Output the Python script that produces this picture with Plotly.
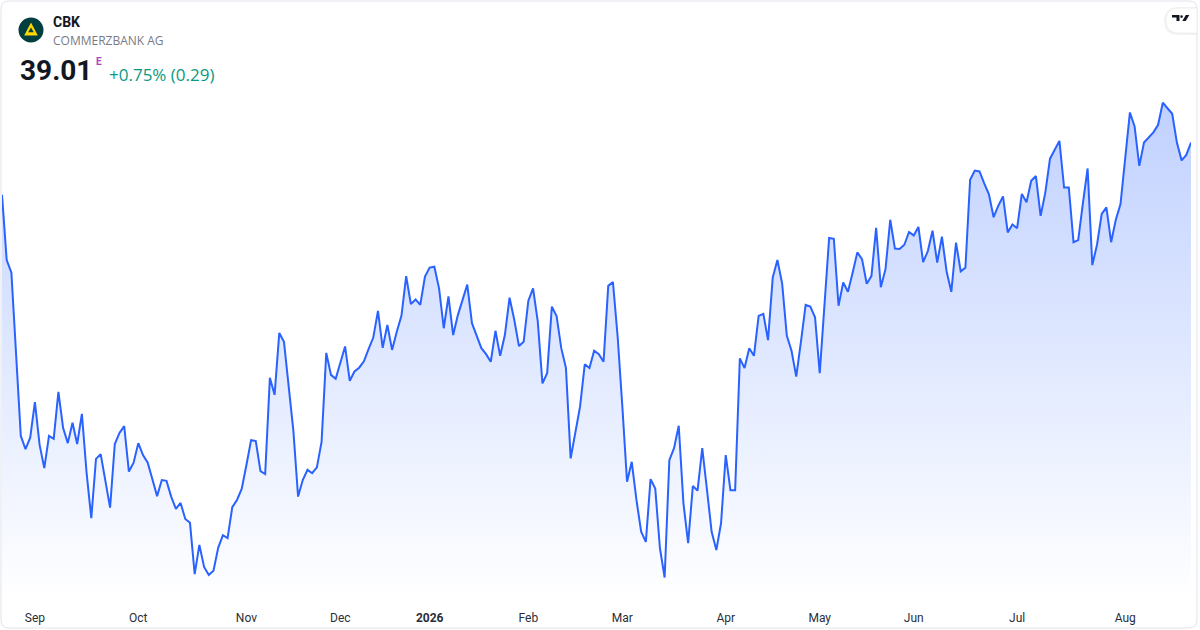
import pandas as pd
import plotly.graph_objects as go

W, H = 1200, 630
M_L, M_R, M_T, M_B = 2, 9, 90, 30

symbol = "CBK"
company = "COMMERZBANK AG"
last_price = "39.01"
change_text = "+0.75% (0.29)"

# Xetra closing days inside the window
holidays = ["2025-12-24", "2025-12-25", "2025-12-26", "2025-12-31",
            "2026-01-01", "2026-04-03", "2026-04-06", "2026-05-01"]

# daily closes, 21 Aug 2025 -> 21 Aug 2026
close = [
    37.78, 36.24, 35.94, 34.02, 32.09, 31.78, 32.05, 32.89, 31.88, 31.33,
    32.09, 32.02, 33.13, 32.28, 31.92, 32.40, 31.90, 32.61, 31.22, 30.15,
    31.55, 31.66, 31.01, 30.40, 31.90, 32.16, 32.32, 31.25, 31.46, 31.92,
    31.64, 31.46, 31.07, 30.67, 31.05, 31.03, 30.66, 30.37, 30.51, 30.13,
    30.04, 28.83, 29.52, 29.00, 28.81, 28.91, 29.45, 29.75, 29.68, 30.41,
    30.58, 30.84, 31.40, 31.99, 31.97, 31.26, 31.19, 33.46, 33.06, 34.52,
    34.31, 33.17, 32.21, 30.66, 31.05, 31.29, 31.21, 31.35, 31.95, 34.05,
    33.53, 33.44, 33.82, 34.20, 33.39, 33.61, 33.70, 33.85, 34.14, 34.41,
    35.04, 34.17, 34.71, 34.12, 34.55, 34.93, 35.86, 35.20, 35.31, 35.18,
    35.85, 36.06, 36.08, 35.57, 34.63, 35.38, 34.47, 34.94, 35.30, 35.66,
    34.75, 34.43, 34.16, 34.02, 33.84, 34.57, 33.98, 34.47, 35.35, 34.83,
    34.21, 34.31, 35.28, 35.57, 34.79, 33.33, 33.57, 35.14, 34.92, 34.16,
    33.69, 31.56, 32.19, 32.78, 33.78, 33.69, 34.10, 34.02, 33.84, 35.63,
    35.72, 34.43, 32.78, 31.01, 31.48, 30.58, 29.83, 29.59, 31.07, 30.85,
    29.44, 28.75, 31.52, 31.80, 32.33, 30.50, 29.56, 30.91, 30.80, 31.80,
    30.83, 29.83, 29.40, 30.03, 31.64, 30.81, 30.81, 33.92, 33.69, 34.16,
    33.98, 34.92, 34.97, 34.35, 35.83, 36.24, 35.69, 34.45, 34.10, 33.49,
    34.31, 35.18, 35.14, 34.89, 33.57, 35.06, 36.76, 36.74, 35.16, 35.71,
    35.49, 35.94, 36.42, 36.26, 35.68, 35.86, 37.00, 35.60, 36.03, 37.19,
    36.51, 36.50, 36.60, 36.90, 36.82, 37.02, 36.19, 36.45, 36.93, 36.18,
    36.79, 35.97, 35.49, 36.65, 35.97, 36.06, 38.13, 38.35, 38.33, 38.05,
    37.79, 37.25, 37.52, 37.74, 36.89, 37.08, 36.99, 37.80, 37.60, 38.11,
    38.22, 37.28, 37.83, 38.63, 38.84, 39.05, 37.95, 37.95, 36.66, 36.71,
    37.58, 38.40, 36.12, 36.60, 37.33, 37.48, 36.66, 37.19, 37.56, 38.64,
    39.72, 39.39, 38.46, 39.01, 39.13, 39.25, 39.43, 39.95, 39.82, 39.69,
    39.01, 38.59, 38.72, 39.01,
]

tick_dates = ["2025-09-01", "2025-10-01", "2025-11-03", "2025-12-01",
              "2026-01-02", "2026-02-02", "2026-03-02", "2026-04-01",
              "2026-05-04", "2026-06-01", "2026-07-01", "2026-08-03"]
tick_labels = ["Sep", "Oct", "Nov", "Dec", "<b>2026</b>", "Feb",
               "Mar", "Apr", "May", "Jun", "Jul", "Aug"]

days = pd.bdate_range("2025-08-21", "2026-08-21")
dates = [d.strftime("%Y-%m-%d") for d in days if d.strftime("%Y-%m-%d") not in holidays]

y_lo, y_hi = 28.22, 40.25
FONT = "Roboto, Noto Sans, sans-serif"
FONT_WIDE = "Open Sans, Noto Sans, sans-serif"


def px(x, y):
    """pixel position of the page -> paper coords"""
    return (x - M_L) / (W - M_L - M_R), (H - M_B - y) / (H - M_T - M_B)


def path(cmds):
    out = []
    for c in cmds:
        if isinstance(c, str):
            out.append(c)
        else:
            xp, yp = px(*c)
            out.append("{:.5f},{:.5f}".format(xp, yp))
    return " ".join(out)


def text(x, y, s, size, color, family=FONT, anchor="left"):
    xp, yp = px(x, y)
    return dict(x=xp, y=yp, xref="paper", yref="paper", text=s, showarrow=False,
                xanchor=anchor, yanchor="middle",
                font=dict(family=family, size=size, color=color))


fig = go.Figure()
fig.add_trace(go.Scatter(
    x=dates,
    y=close,
    mode="lines",
    line=dict(color="#2962FF", width=2),
    fill="tozeroy",
    fillgradient=dict(type="vertical",
                      colorscale=[[0, "rgba(41,98,255,0)"], [1, "rgba(41,98,255,0.3)"]],
                      start=y_lo, stop=y_hi),
    hoverinfo="skip",
    showlegend=False,
))

# card border with rounded corners
x0, y0, x1, y1, r = 1, 1, 1197, 628, 8
card = path(["M", (x0 + r, y0), "L", (x1 - r, y0), "Q", (x1, y0), (x1, y0 + r),
             "L", (x1, y1 - r), "Q", (x1, y1), (x1 - r, y1),
             "L", (x0 + r, y1), "Q", (x0, y1), (x0, y1 - r),
             "L", (x0, y0 + r), "Q", (x0, y0), (x0 + r, y0), "Z"])

# tradingview pill (top right)
pill = path(["M", (1179, 8), "L", (1197, 8), "L", (1197, 33), "L", (1179, 33),
             "Q", (1166, 33), (1166, 20.5), "Q", (1166, 8), (1179, 8), "Z"])
pill_shadow = path(["M", (1179, 7), "L", (1197, 7), "L", (1197, 35), "L", (1179, 35),
                    "Q", (1164, 35), (1164, 21), "Q", (1164, 7), (1179, 7), "Z"])
tv_bar = path(["M", (1172, 15), "L", (1179.5, 15), "L", (1179.5, 21), "L", (1176.5, 21),
               "L", (1176.5, 17.5), "L", (1172, 17.5), "Z"])
tv_slash = path(["M", (1182.3, 21), "L", (1185.8, 21), "L", (1189.3, 15), "L", (1185.8, 15), "Z"])
dot_c = px(1181.6, 16.6)
dot_a = px(1180.3, 15.3)

logo_c0 = px(18.5, 17.5)
logo_c1 = px(43.5, 42.5)
ribbon = path(["M", (31, 22.5), "L", (37.8, 35.5), "L", (24.2, 35.5), "Z"])
ribbon_in = path(["M", (31, 27.6), "L", (33.8, 32.2), "L", (28.2, 32.2), "Z"])

shapes = [
    dict(type="path", path=card, xref="paper", yref="paper",
         line=dict(color="#E0E3EB", width=1), fillcolor="rgba(0,0,0,0)", layer="above"),
    dict(type="path", path=pill_shadow, xref="paper", yref="paper",
         line=dict(width=0), fillcolor="rgba(0,0,0,0.05)"),
    dict(type="path", path=pill, xref="paper", yref="paper",
         line=dict(color="#F0F0F0", width=1), fillcolor="white"),
    dict(type="path", path=tv_bar, xref="paper", yref="paper",
         line=dict(width=0), fillcolor="#131722"),
    dict(type="path", path=tv_slash, xref="paper", yref="paper",
         line=dict(width=0), fillcolor="#131722"),
    dict(type="circle", xref="paper", yref="paper",
         x0=dot_a[0], y0=dot_a[1], x1=2 * dot_c[0] - dot_a[0], y1=2 * dot_c[1] - dot_a[1],
         line=dict(width=0), fillcolor="#131722"),
    dict(type="circle", xref="paper", yref="paper",
         x0=logo_c0[0], y0=logo_c0[1], x1=logo_c1[0], y1=logo_c1[1],
         line=dict(width=0), fillcolor="#003E3F"),
    dict(type="path", path=ribbon, xref="paper", yref="paper",
         line=dict(width=0), fillcolor="#FFD700"),
    dict(type="path", path=ribbon_in, xref="paper", yref="paper",
         line=dict(width=0), fillcolor="#003E3F"),
]

annotations = [
    text(51, 21.5, "<b>" + symbol + "</b>", 14, "#131722"),
    text(51, 40.5, company, 12, "#787B86", family=FONT_WIDE),
    text(17.5, 70.5, "<b>" + last_price + "</b>", 28, "#131722"),
    text(93.5, 61.5, "<b>E</b>", 10, "#AB47BC"),
    text(107, 74.5, change_text, 17, "#089981", family=FONT_WIDE),
]

fig.update_layout(
    width=W,
    height=H,
    margin=dict(l=M_L, r=M_R, t=M_T, b=M_B),
    paper_bgcolor="white",
    plot_bgcolor="white",
    showlegend=False,
    hovermode=False,
    font=dict(family=FONT, color="#131722"),
    xaxis=dict(
        type="category",
        range=[0, len(dates) - 1],
        tickmode="array",
        tickvals=tick_dates,
        ticktext=tick_labels,
        showgrid=False,
        zeroline=False,
        showline=False,
        ticks="",
        ticklabelstandoff=9,
        tickfont=dict(family=FONT, size=12, color="#2A2E39"),
    ),
    yaxis=dict(range=[y_lo, y_hi], visible=False, showgrid=False, zeroline=False),
    shapes=shapes,
    annotations=annotations,
)

# the page body has a default 8px margin, drop it so the card sits at 0,0
fig.write_html("out.html", post_script="document.body.style.margin = '0';",
               config={"displayModeBar": False})
